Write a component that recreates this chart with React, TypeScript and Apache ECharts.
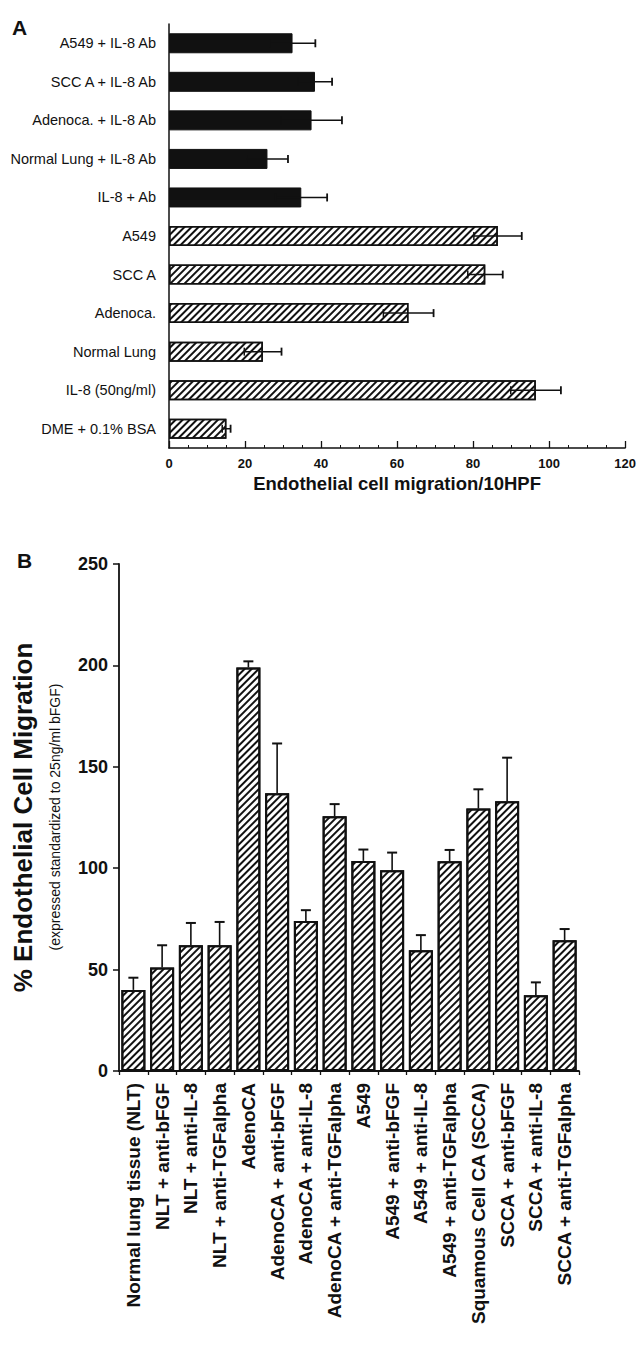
import React, { useEffect, useRef } from "react";
import * as echarts from "echarts";

// Panel A (top to bottom)
const catsA = [
  "A549 + IL-8 Ab",
  "SCC A + IL-8 Ab",
  "Adenoca. + IL-8 Ab",
  "Normal Lung + IL-8 Ab",
  "IL-8 + Ab",
  "A549",
  "SCC A",
  "Adenoca.",
  "Normal Lung",
  "IL-8 (50ng/ml)",
  "DME + 0.1% BSA",
];
const valsA = [32.5, 38.4, 37.5, 25.9, 34.8, 86.5, 83.2, 63, 24.7, 96.5, 15.1];
const errA = [6, 4.5, 8, 5.4, 6.8, 6.3, 4.6, 6.6, 4.9, 6.6, 1.1];
const blackA = [true, true, true, true, true, false, false, false, false, false, false];
const ticksA = { min: 0, max: 120, interval: 20 };
const titleA = "Endothelial cell migration/10HPF";

// Panel B
const catsB = [
  "Normal lung tissue (NLT)",
  "NLT + anti-bFGF",
  "NLT + anti-IL-8",
  "NLT + anti-TGFalpha",
  "AdenoCA",
  "AdenoCA + anti-bFGF",
  "AdenoCA + anti-IL-8",
  "AdenoCA + anti-TGFalpha",
  "A549",
  "A549 + anti-bFGF",
  "A549 + anti-IL-8",
  "A549 + anti-TGFalpha",
  "Squamous Cell CA (SCCA)",
  "SCCA + anti-bFGF",
  "SCCA + anti-IL-8",
  "SCCA + anti-TGFalpha",
];
const valsB = [40, 51, 62, 62, 199, 137, 74, 125.6, 103.6, 99, 59.6, 103.4, 129.4, 133, 37.4, 64.5];
const errB = [6, 11, 11, 11.5, 3, 24.5, 5.3, 6, 5.6, 8.7, 7.4, 5.6, 9.5, 21.5, 6.3, 5.5];
const ticksB = { min: 0, max: 250, interval: 50 };
const titleB = "% Endothelial Cell Migration";
const subtitleB = "(expressed standardized to 25ng/ml bFGF)";

const FONT = "'Liberation Sans', Arial, Helvetica, sans-serif";
const INK = "#111";

const hatch = (w: number, gap: number) => ({
  symbol: "rect",
  symbolSize: 1,
  color: INK,
  backgroundColor: "#fff",
  dashArrayX: [[1, 0]],
  dashArrayY: [w, gap],
  rotation: -Math.PI / 4,
});

export default function App() {
  const ref = useRef<HTMLDivElement>(null);
  useEffect(() => {
    if (!ref.current) return;
    const chart = echarts.init(ref.current, undefined, { renderer: "svg" });

    const errDataA = catsA.map((_, i) => [i, valsA[i] - errA[i], valsA[i] + errA[i]]);
    const errDataB = catsB.map((_, i) => [i, valsB[i], valsB[i] + errB[i]]);

    const option: any = {
      animation: false,
      backgroundColor: "#fff",
      textStyle: { fontFamily: FONT, color: INK },
      grid: [
        { left: 169, top: 24, width: 458, height: 424 },
        { left: 119, top: 564, width: 460, height: 507 },
      ],
      xAxis: [
        {
          type: "value",
          gridIndex: 0,
          min: ticksA.min,
          max: ticksA.max,
          interval: ticksA.interval,
          axisLine: { show: true, lineStyle: { color: INK, width: 1.5 } },
          axisTick: { show: true, inside: true, length: 7, lineStyle: { color: INK, width: 1.3 } },
          minorTick: { show: true, splitNumber: 4, length: 3, lineStyle: { color: INK, width: 1 } },
          splitLine: { show: false },
          axisLabel: { fontSize: 13, fontWeight: "bold", color: INK, margin: 9, fontFamily: FONT },
          name: titleA,
          nameLocation: "middle",
          nameGap: 26,
          nameTextStyle: { fontSize: 18.5, fontWeight: "bold", color: INK, fontFamily: FONT },
        },
        {
          type: "category",
          gridIndex: 1,
          data: catsB,
          axisLine: { show: true, lineStyle: { color: INK, width: 1.8 } },
          axisTick: { show: true, length: 4, lineStyle: { color: INK, width: 1.3 } },
          axisLabel: {
            rotate: 90,
            interval: 0,
            fontSize: 19,
            fontWeight: "bold",
            color: INK,
            margin: 12,
            fontFamily: FONT,
          },
        },
      ],
      yAxis: [
        {
          type: "category",
          gridIndex: 0,
          data: catsA,
          inverse: true,
          axisLine: { show: true, lineStyle: { color: INK, width: 1.5 } },
          axisTick: { show: false },
          axisLabel: { fontSize: 14.5, color: INK, margin: 13, fontFamily: FONT },
        },
        {
          type: "value",
          gridIndex: 1,
          min: ticksB.min,
          max: ticksB.max,
          interval: ticksB.interval,
          axisLine: { show: true, lineStyle: { color: INK, width: 1.8 } },
          axisTick: { show: true, length: 6, lineStyle: { color: INK, width: 1.5 } },
          splitLine: { show: false },
          axisLabel: { fontSize: 18, fontWeight: "bold", color: INK, margin: 11, fontFamily: FONT },
          name: titleB,
          nameLocation: "middle",
          nameRotate: 90,
          nameGap: 83,
          nameTextStyle: { fontSize: 26, fontWeight: "bold", color: INK, fontFamily: FONT },
        },
      ],
      graphic: [
        {
          type: "text",
          left: 12,
          top: 17,
          style: { text: "A", fontSize: 21, fontWeight: "bold", fill: INK, fontFamily: FONT },
        },
        {
          type: "text",
          left: 17,
          top: 550,
          style: { text: "B", fontSize: 21, fontWeight: "bold", fill: INK, fontFamily: FONT },
        },
        {
          type: "text",
          x: 55,
          y: 817,
          rotation: Math.PI / 2,
          style: {
            text: subtitleB,
            fontSize: 14,
            fill: INK,
            fontFamily: FONT,
            align: "center",
            verticalAlign: "middle",
          },
        },
      ],
      series: [
        {
          type: "bar",
          xAxisIndex: 0,
          yAxisIndex: 0,
          barWidth: 20,
          barGap: "-100%",
          data: valsA.map((v, i) => (blackA[i] ? v : null)),
          itemStyle: { color: INK, borderColor: INK, borderWidth: 1 },
        },
        {
          type: "bar",
          xAxisIndex: 0,
          yAxisIndex: 0,
          barWidth: 20,
          barGap: "-100%",
          data: valsA.map((v, i) => (blackA[i] ? null : v)),
          itemStyle: { color: "#fff", borderColor: INK, borderWidth: 1.5, decal: hatch(1.3, 2.2) },
        },
        {
          type: "custom",
          xAxisIndex: 0,
          yAxisIndex: 0,
          encode: { x: [1, 2], y: 0 },
          data: errDataA,
          z: 5,
          renderItem: (params: any, api: any) => {
            const c = api.value(0);
            const lo = api.coord([api.value(1), c]);
            const hi = api.coord([api.value(2), c]);
            const h = 4;
            return {
              type: "group",
              children: [
                { type: "line", shape: { x1: lo[0], y1: lo[1], x2: hi[0], y2: hi[1] }, style: { stroke: INK, lineWidth: 1.5 } },
                { type: "line", shape: { x1: hi[0], y1: hi[1] - h, x2: hi[0], y2: hi[1] + h }, style: { stroke: INK, lineWidth: 1.8 } },
                { type: "line", shape: { x1: lo[0], y1: lo[1] - h, x2: lo[0], y2: lo[1] + h }, style: { stroke: INK, lineWidth: 1.5 } },
              ],
            };
          },
        },
        {
          type: "bar",
          xAxisIndex: 1,
          yAxisIndex: 1,
          barWidth: 24,
          data: valsB,
          itemStyle: { color: "#fff", borderColor: INK, borderWidth: 2, decal: hatch(1.4, 2.2) },
        },
        {
          type: "custom",
          xAxisIndex: 1,
          yAxisIndex: 1,
          encode: { x: 0, y: [1, 2] },
          data: errDataB,
          z: 5,
          renderItem: (params: any, api: any) => {
            const c = api.value(0);
            const lo = api.coord([c, api.value(1)]);
            const hi = api.coord([c, api.value(2)]);
            const w = 5;
            return {
              type: "group",
              children: [
                { type: "line", shape: { x1: lo[0], y1: lo[1], x2: hi[0], y2: hi[1] }, style: { stroke: INK, lineWidth: 1.6 } },
                { type: "line", shape: { x1: hi[0] - w, y1: hi[1], x2: hi[0] + w, y2: hi[1] }, style: { stroke: INK, lineWidth: 2 } },
              ],
            };
          },
        },
      ],
    };
    chart.setOption(option);
    return () => chart.dispose();
  }, []);
  return (
    <div
      ref={ref}
      style={{ position: "absolute", left: 0, top: 0, width: 639, height: 1357, background: "#fff" }}
    />
  );
}
